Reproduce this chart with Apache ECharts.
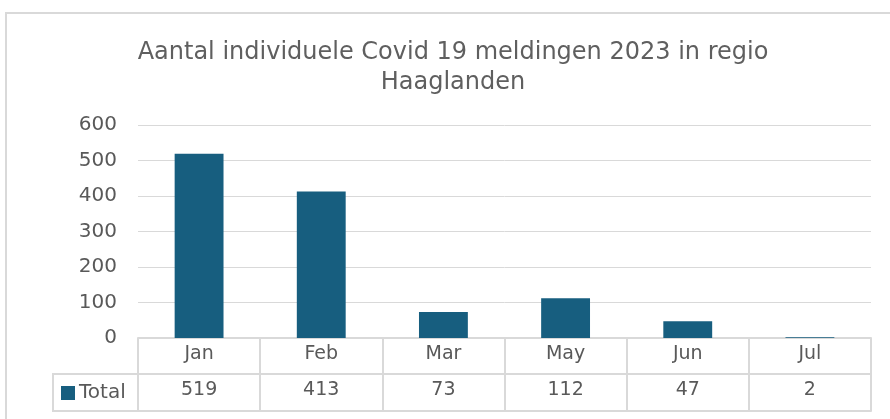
<!DOCTYPE html>
<html>
<head>
<meta charset="utf-8">
<script src="https://cdn.jsdelivr.net/npm/echarts@6/dist/echarts.min.js"></script>
<style>
  html, body { margin: 0; padding: 0; background: #fff; }
  #chart { width: 890px; height: 419px; }
</style>
</head>
<body>
<div id="chart"></div>
<script>
/* data */
var months = ['Jan', 'Feb', 'Mar', 'May', 'Jun', 'Jul'];
var totals = [519, 413, 73, 112, 47, 2];
var yTicks = [0, 100, 200, 300, 400, 500, 600];

var textColor = '#595959';
var lineColor = '#d9d9d9';
var barColor = '#175e7f';
var font = 'DejaVu Sans';

var option = {
  animation: false,
  title: {
    text: 'Aantal individuele Covid 19 meldingen 2023 in regio\nHaaglanden',
    left: 448,
    textAlign: 'center',
    top: 33,
    textStyle: {
      color: '#5f5f5f',
      fontFamily: font,
      fontSize: 24,
      fontWeight: 'normal',
      lineHeight: 30
    }
  },
  legend: {
    left: 61,
    top: 383,
    padding: 0,
    itemWidth: 14,
    itemHeight: 14,
    icon: 'rect',
    textStyle: { color: textColor, fontFamily: font, fontSize: 20, padding: [0, 0, 0, -1] },
    data: ['Total']
  },
  grid: { left: 138, right: 19, top: 125, bottom: 81 },
  xAxis: [
    {
      type: 'category',
      data: months,
      position: 'bottom',
      axisLine: { lineStyle: { color: lineColor, width: 2 } },
      axisTick: { show: true, length: 36, lineStyle: { color: lineColor, width: 2 } },
      axisLabel: { color: textColor, fontFamily: font, fontSize: 19, margin: 7 }
    },
    {
      type: 'category',
      data: months,
      position: 'bottom',
      offset: 36,
      axisLine: { lineStyle: { color: lineColor, width: 2 } },
      axisTick: { show: true, length: 37, lineStyle: { color: lineColor, width: 2 } },
      axisLabel: {
        color: textColor, fontFamily: font, fontSize: 19, margin: 7,
        formatter: function (v, i) { return String(totals[i]); }
      }
    },
    {
      type: 'category',
      data: months,
      position: 'bottom',
      offset: 73,
      axisLine: { lineStyle: { color: lineColor, width: 2 } },
      axisTick: { show: false },
      axisLabel: { show: false }
    }
  ],
  yAxis: {
    type: 'value',
    min: yTicks[0],
    max: yTicks[yTicks.length - 1],
    interval: 100,
    axisLine: { show: false },
    axisTick: { show: false },
    splitLine: { lineStyle: { color: lineColor, width: 1 } },
    axisLabel: { color: textColor, fontFamily: font, fontSize: 20, margin: 21 }
  },
  series: [
    {
      name: 'Total',
      type: 'bar',
      data: totals,
      barWidth: '40%',
      itemStyle: { color: barColor }
    }
  ],
  graphic: [
    // outer chart frame
    {
      type: 'rect',
      shape: { x: 6, y: 13, width: 900, height: 420 },
      style: { fill: null, stroke: lineColor, lineWidth: 2 },
      silent: true
    },
    // left cell of the data table (legend key)
    {
      type: 'polyline',
      shape: { points: [[138, 374], [53, 374], [53, 411], [138, 411]] },
      style: { fill: null, stroke: lineColor, lineWidth: 2 },
      silent: true
    }
  ]
};

var chart = echarts.init(document.getElementById('chart'));
chart.setOption(option);
</script>
</body>
</html>
